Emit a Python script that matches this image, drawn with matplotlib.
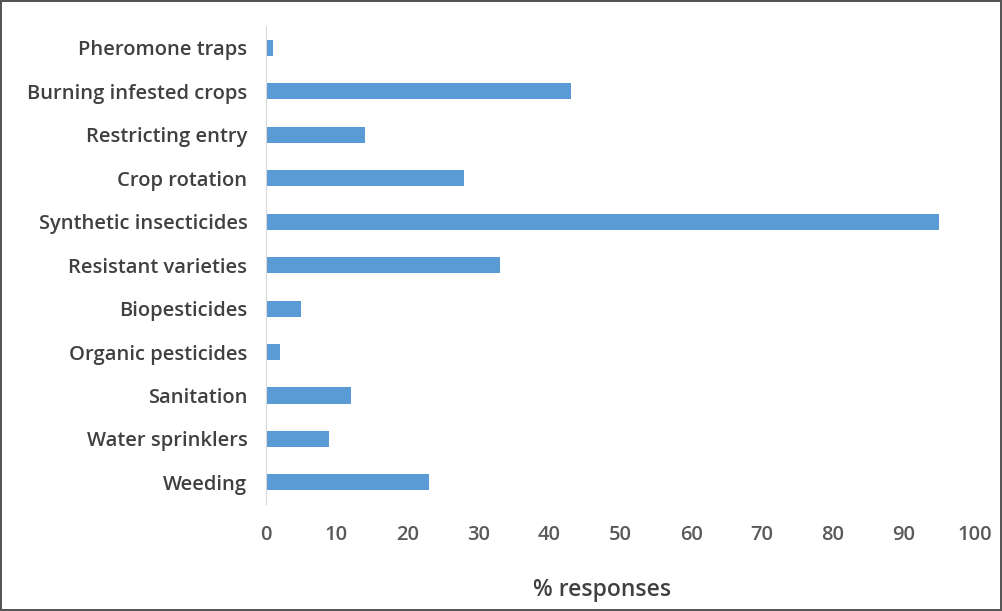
import matplotlib.pyplot as plt

# Pest control practices and share of responses (%)
practices = ['Pheromone traps', 'Burning infested crops', 'Restricting entry',
             'Crop rotation', 'Synthetic insecticides', 'Resistant varieties',
             'Biopesticides', 'Organic pesticides', 'Sanitation',
             'Water sprinklers', 'Weeding']
responses = [1, 43, 14, 28, 95, 33, 5, 2, 12, 9, 23]
xticks = [0, 10, 20, 30, 40, 50, 60, 70, 80, 90, 100]

plt.rcParams['font.family'] = ['Open Sans', 'DejaVu Sans']

fig = plt.figure(figsize=(10.02, 6.11), dpi=100)
fig.patch.set_edgecolor('#555555')
fig.patch.set_linewidth(1.5)
ax = fig.add_axes([0.265, 0.175, 0.708, 0.782])

positions = list(range(len(practices)))
ax.barh(positions, responses, height=0.37, color='#5b9bd5')
ax.set_ylim(len(practices) - 0.5, -0.5)
ax.set_xlim(0, 100)

ax.set_yticks(positions)
ax.set_yticklabels(practices, fontsize=14.5, color='#404040', fontweight='semibold')
ax.set_xticks(xticks)
ax.set_xticklabels([str(t) for t in xticks], fontsize=14.5, color='#595959',
                   fontweight='semibold')
ax.tick_params(axis='both', length=0)
ax.tick_params(axis='x', pad=15)
ax.tick_params(axis='y', pad=13)

for side in ['top', 'right', 'bottom']:
    ax.spines[side].set_visible(False)
ax.spines['left'].set_color('#d9d9d9')

ax.set_xlabel('% responses', fontsize=16.5, color='#404040', fontweight='semibold')
ax.xaxis.set_label_coords(0.475, -0.155)

fig.savefig('out.png', dpi=100)
